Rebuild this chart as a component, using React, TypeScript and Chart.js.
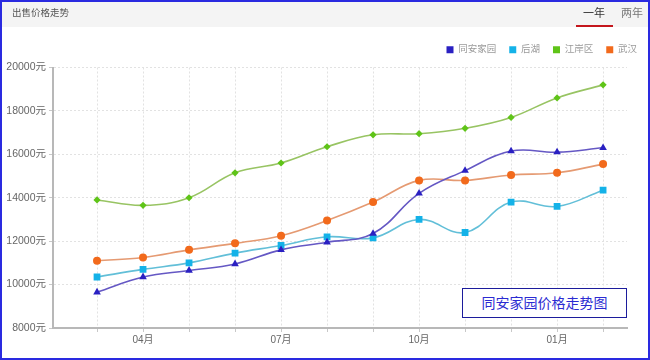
import React, { useEffect, useRef } from "react";
import { Chart, registerables } from "chart.js";

Chart.register(...registerables);

// ---- data ----
const months = ["03月", "04月", "05月", "06月", "07月", "08月", "09月", "10月", "11月", "12月", "01月", "02月"];
const seriesNames = ["同安家园", "后湖", "江岸区", "武汉"];
const tongAn = [9650, 10350, 10650, 10950, 11600, 11950, 12350, 14200, 15250, 16150, 16100, 16300];
const houHu = [10350, 10700, 11000, 11450, 11800, 12200, 12150, 13000, 12400, 13800, 13600, 14350];
const jiangAn = [13900, 13650, 14000, 15150, 15600, 16350, 16900, 16950, 17200, 17700, 18600, 19200];
const wuHan = [11100, 11250, 11600, 11900, 12250, 12950, 13800, 14800, 14800, 15050, 15150, 15550];
const yMin = 8000;
const yMax = 20000;
const yStep = 2000;
const shownMonthIdx = [1, 4, 7, 10];

// ---- styles ----
const markerColors = ["#2a20c2", "#14b2e8", "#5fc418", "#f26a1c"];
const lineColors = ["#6558c4", "#62bfd8", "#98c463", "#e59a72"];
const pointStyles = ["triangle", "rect", "rectRot", "circle"];
const pointRadii = [4.4, 4.8, 3.6, 4];

const FONT = '"Liberation Sans", "Noto Sans CJK SC", sans-serif';

const legendGap = {
  id: "legendGap",
  beforeInit(chart: any) {
    const legend = chart.legend;
    if (!legend) return;
    const origFit = legend.fit;
    legend.fit = function () {
      origFit.bind(legend)();
      this.height += 3;
    };
  },
};

export default function App() {
  const ref = useRef<HTMLCanvasElement | null>(null);

  useEffect(() => {
    if (!ref.current) return;
    Chart.defaults.font.family = FONT;
    const seriesData = [tongAn, houHu, jiangAn, wuHan];
    const chart = new Chart(ref.current, {
      type: "line",
      plugins: [legendGap],
      data: {
        datasets: seriesData.map((arr, i) => ({
          label: seriesNames[i],
          data: arr.map((v, j) => ({ x: j, y: v })),
          borderColor: lineColors[i],
          backgroundColor: markerColors[i],
          borderWidth: 1.6,
          tension: 0.4,
          pointStyle: pointStyles[i] as any,
          pointRadius: pointRadii[i],
          pointBackgroundColor: markerColors[i],
          pointBorderColor: markerColors[i],
          pointBorderWidth: 0,
          fill: false,
          yAxisID: "y",
        })),
      },
      options: {
        responsive: false,
        animation: false,
        devicePixelRatio: 1,
        layout: { padding: { top: 32, left: 0, right: 0, bottom: 0 } },
        plugins: {
          tooltip: { enabled: false },
          legend: {
            position: "top",
            align: "end",
            labels: {
              boxWidth: 7,
              boxHeight: 7,
              padding: 13,
              color: "#9a9a9a",
              font: { size: 9.5, family: FONT },
              generateLabels: (c: any) =>
                c.data.datasets.map((ds: any, i: number) => ({
                  text: ds.label,
                  fillStyle: markerColors[i],
                  strokeStyle: markerColors[i],
                  lineWidth: 0,
                  hidden: false,
                  datasetIndex: i,
                  fontColor: "#9a9a9a",
                })),
            },
          },
        },
        scales: {
          x: {
            type: "linear",
            min: -0.957,
            max: 11.52,
            afterFit: (s: any) => {
              s.height = 32;
            },
            ticks: {
              stepSize: 1,
              autoSkip: false,
              maxRotation: 0,
              includeBounds: false,
              color: "#666",
              font: { size: 10, family: FONT },
              padding: 2,
              callback: (v: any) =>
                Number.isInteger(v) && shownMonthIdx.includes(v) ? months[v] : "",
            },
            grid: {
              color: "#e2e2e2",
              tickColor: "#c8c8c8",
              tickLength: 4,
              tickBorderDash: [],
            },
            border: { color: "#b8b8b8", width: 2, dash: [2, 2] },
          },
          y: {
            min: yMin,
            max: yMax,
            afterFit: (s: any) => {
              s.width = 53;
            },
            ticks: {
              stepSize: yStep,
              color: "#666",
              font: { size: 10.5, family: FONT },
              padding: 3,
              callback: (v: any) => v + "元",
            },
            grid: {
              color: "#e2e2e2",
              tickColor: "#c8c8c8",
              tickLength: 4,
              tickBorderDash: [],
            },
            border: { color: "#b8b8b8", width: 2, dash: [2, 2] },
          },
          yR: {
            position: "right",
            display: true,
            afterFit: (s: any) => {
              s.width = 23;
            },
            grid: { display: false, drawTicks: false },
            border: { display: false },
            ticks: { display: false },
          },
        },
      },
    });
    return () => chart.destroy();
  }, []);

  return (
    <div
      style={{
        position: "absolute",
        left: 0,
        top: 0,
        width: 650,
        height: 360,
        background: "#fff",
        overflow: "hidden",
        fontFamily: FONT,
      }}
    >
      <div
        style={{
          position: "absolute",
          left: 0,
          top: 0,
          width: 650,
          height: 27,
          background: "#f4f4f4",
        }}
      />
      <canvas
        ref={ref}
        width={650}
        height={360}
        style={{ position: "absolute", left: 0, top: 0, width: 650, height: 360 }}
      />
      <div style={{ position: "absolute", left: 12, top: 6, fontSize: 9.5, color: "#555", lineHeight: "14px" }}>
        出售价格走势
      </div>
      <div style={{ position: "absolute", left: 583, top: 5, fontSize: 11, color: "#333", lineHeight: "16px" }}>
        一年
      </div>
      <div style={{ position: "absolute", left: 621, top: 5, fontSize: 11, color: "#777", lineHeight: "16px" }}>
        两年
      </div>
      <div style={{ position: "absolute", left: 576, top: 25, width: 37, height: 2, background: "#c4161c" }} />
      <div
        style={{
          position: "absolute",
          left: 462,
          top: 288,
          width: 163,
          height: 28,
          border: "1px solid #1c1c9c",
          color: "#2b2bd2",
          fontSize: 14,
          lineHeight: "28px",
          textAlign: "center",
          background: "#fff",
        }}
      >
        同安家园价格走势图
      </div>
      <div
        style={{
          position: "absolute",
          left: 0,
          top: 0,
          width: 650,
          height: 360,
          boxSizing: "border-box",
          border: "2px solid #2a2ae0",
          pointerEvents: "none",
        }}
      />
    </div>
  );
}
